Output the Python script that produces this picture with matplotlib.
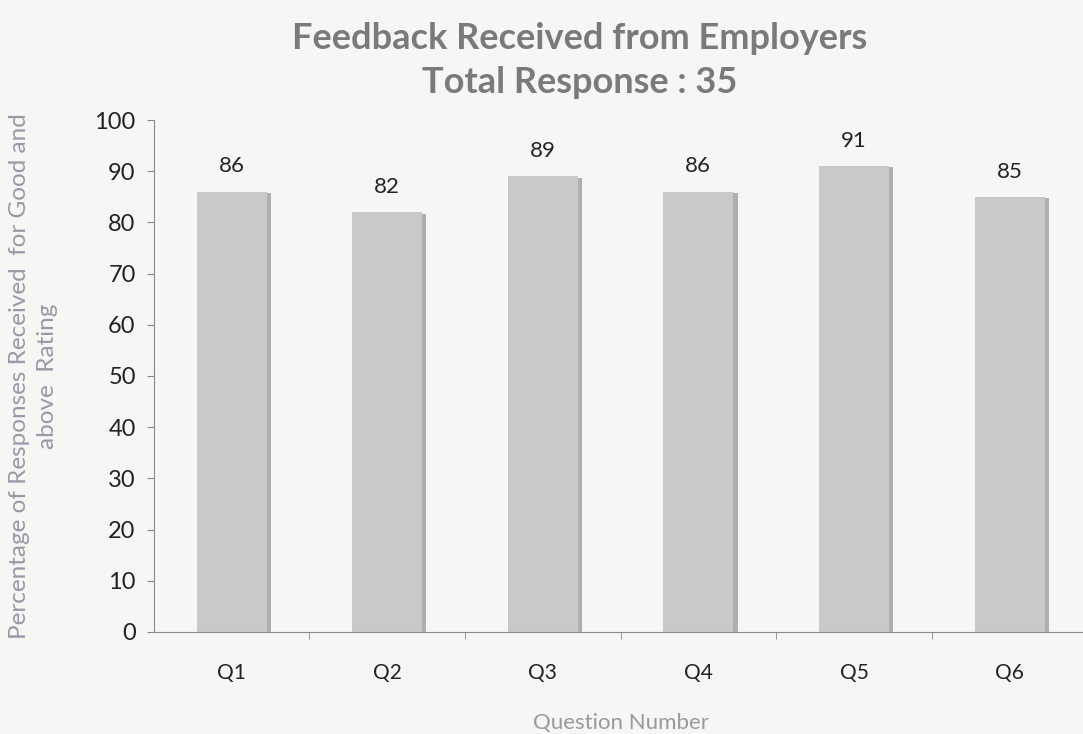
import matplotlib.pyplot as plt
import matplotlib.patheffects as pe
import numpy as np

questions = ['Q1', 'Q2', 'Q3', 'Q4', 'Q5', 'Q6']
percent_good = [86, 82, 89, 86, 91, 85]
y_ticks = [0, 10, 20, 30, 40, 50, 60, 70, 80, 90, 100]

plt.rcParams['font.family'] = ['Lato', 'DejaVu Sans']

bg = '#f6f6f4'
fig = plt.figure(figsize=(10.83, 7.34), dpi=100, facecolor=bg)
ax = fig.add_axes([0.1420, 0.139, 0.862, 0.6975], facecolor=bg)

x = np.arange(len(questions))
bars = ax.bar(x, percent_good, width=0.45, color='#c9c9c9', zorder=2)
for b in bars:
    b.set_path_effects([pe.SimplePatchShadow(offset=(3, -1), shadow_rgbFace='#a8a8a8', alpha=0.9),
                        pe.Normal()])

for xi, v in zip(x, percent_good):
    ax.annotate(str(v), (xi, v), xytext=(0, 11), textcoords='offset points',
                ha='center', va='bottom', fontsize=16, color='#222222')

ax.set_xlim(-0.5, len(questions) - 0.5)
ax.set_ylim(0, 100)
ax.set_yticks(y_ticks)
ax.set_xticks(x)
ax.set_xticklabels(questions, fontsize=15, color='#222222')
ax.set_xticks(np.arange(0.5, len(questions) - 0.5, 1), minor=True)
ax.tick_params(axis='x', which='major', length=0, pad=22)
ax.tick_params(axis='x', which='minor', length=5, color='#888888', direction='out')
ax.tick_params(axis='y', labelsize=17, labelcolor='#222222', length=5, color='#888888', pad=8)

for s in ['top', 'right']:
    ax.spines[s].set_visible(False)
for s in ['left', 'bottom']:
    ax.spines[s].set_color('#8a8a8a')

ax.set_xlabel('Question Number', fontsize=16, color='#9a9a9a', labelpad=22)
ax.set_ylabel('Percentage of Responses Received  for Good and\nabove  Rating',
              fontsize=17.5, color='#9898a8', labelpad=26, linespacing=1.45)

fig.text(0.535, 0.918, 'Feedback Received from Employers\nTotal Response : 35',
         ha='center', va='center', fontsize=26, fontweight='bold', color='#7a7a7a',
         linespacing=1.4)

fig.savefig('out.png', dpi=100, facecolor=bg)
